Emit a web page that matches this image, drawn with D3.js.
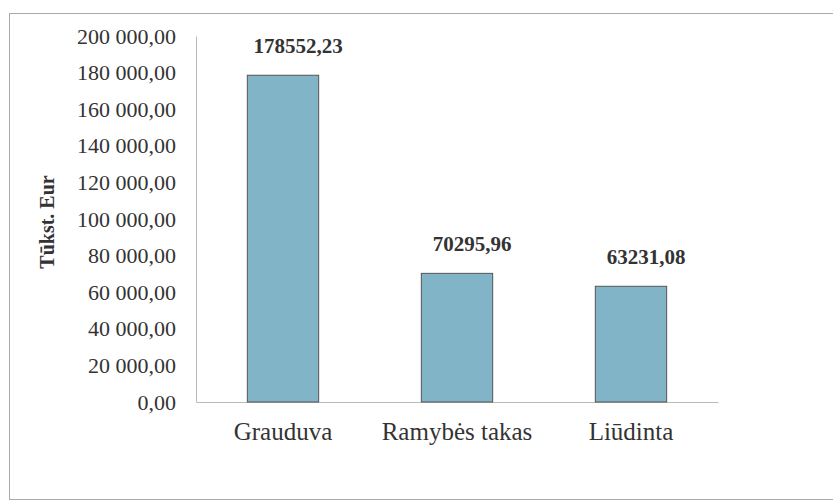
<!DOCTYPE html>
<html><head><meta charset="utf-8"><script src="https://cdn.jsdelivr.net/npm/d3@7"></script></head>
<body style="margin:0">
<script>
const categories = ["Grauduva", "Ramybės takas", "Liūdinta"];
const values = [178552.23, 70295.96, 63231.08];
const yTicks = [0, 20000, 40000, 60000, 80000, 100000, 120000, 140000, 160000, 180000, 200000];
const yTitle = "Tūkst. Eur";

const W = 833, H = 501;
const plotLeft = 196, plotRight = 718, plotTop = 36, plotBase = 402;

const lt = d3.formatLocale({decimal: ",", thousands: " ", grouping: [3], currency: ["", ""]});
const tickFmt = lt.format(",.2f");
const valFmt = lt.format(".2f");

const svg = d3.select("body").append("svg")
  .attr("width", W)
  .attr("height", H)
  .style("font-family", "\"Liberation Serif\"");

// outer frame, right side cut off in the scan
svg.append("rect")
  .attr("x", 9.5).attr("y", 13.5)
  .attr("width", W + 20).attr("height", 486)
  .attr("fill", "none")
  .attr("stroke", "#aaa");

const x = d3.scaleBand()
  .domain(categories)
  .range([plotLeft, plotRight])
  .paddingInner(0.59)
  .paddingOuter(0.295);

const y = d3.scaleLinear()
  .domain([0, 200000])
  .range([plotBase, plotTop]);

const gy = svg.append("g")
  .attr("transform", "translate(" + plotLeft + ",0)")
  .call(d3.axisLeft(y).tickValues(yTicks).tickFormat(tickFmt).tickSize(0).tickPadding(20));
gy.attr("font-family", null).attr("font-size", null);
gy.select(".domain").attr("stroke", "#bbb");
gy.selectAll("text")
  .attr("font-size", 22)
  .attr("fill", "#333")
  .style("font-family", d => "\"Liberation Serif\"");

const gx = svg.append("g")
  .attr("transform", "translate(0," + plotBase + ")")
  .call(d3.axisBottom(x).tickSize(0).tickSizeOuter(0).tickPadding(20));
gx.attr("font-family", null).attr("font-size", null);
gx.select(".domain").attr("stroke", "#bbb");
gx.selectAll("text")
  .attr("font-size", 25)
  .attr("fill", "#333")
  .style("font-family", d => "\"Liberation Serif\"");

svg.selectAll("rect.bar")
  .data(values)
  .enter()
  .append("rect")
  .attr("class", "bar")
  .attr("x", (d, i) => x(categories[i]))
  .attr("y", d => y(d))
  .attr("width", x.bandwidth())
  .attr("height", d => y(0) - y(d))
  .attr("fill", "#82b4c8")
  .attr("stroke", "#555");

svg.selectAll("text.val")
  .data(values)
  .enter()
  .append("text")
  .attr("class", "val")
  .attr("x", (d, i) => x(categories[i]) + x.bandwidth() / 2 + 15)
  .attr("y", d => y(d) - 22)
  .attr("text-anchor", "middle")
  .attr("fill", "#333")
  .attr("font-size", 21)
  .attr("font-weight", "bold")
  .style("font-family", d => "\"Liberation Serif\"")
  .text(d => valFmt(d));

svg.append("text")
  .attr("transform", "translate(54,222) rotate(-90)")
  .attr("text-anchor", "middle")
  .attr("fill", "#333")
  .attr("font-size", 20)
  .attr("font-weight", "bold")
  .style("font-family", "\"Liberation Serif\"")
  .text(yTitle);
</script></body></html>
